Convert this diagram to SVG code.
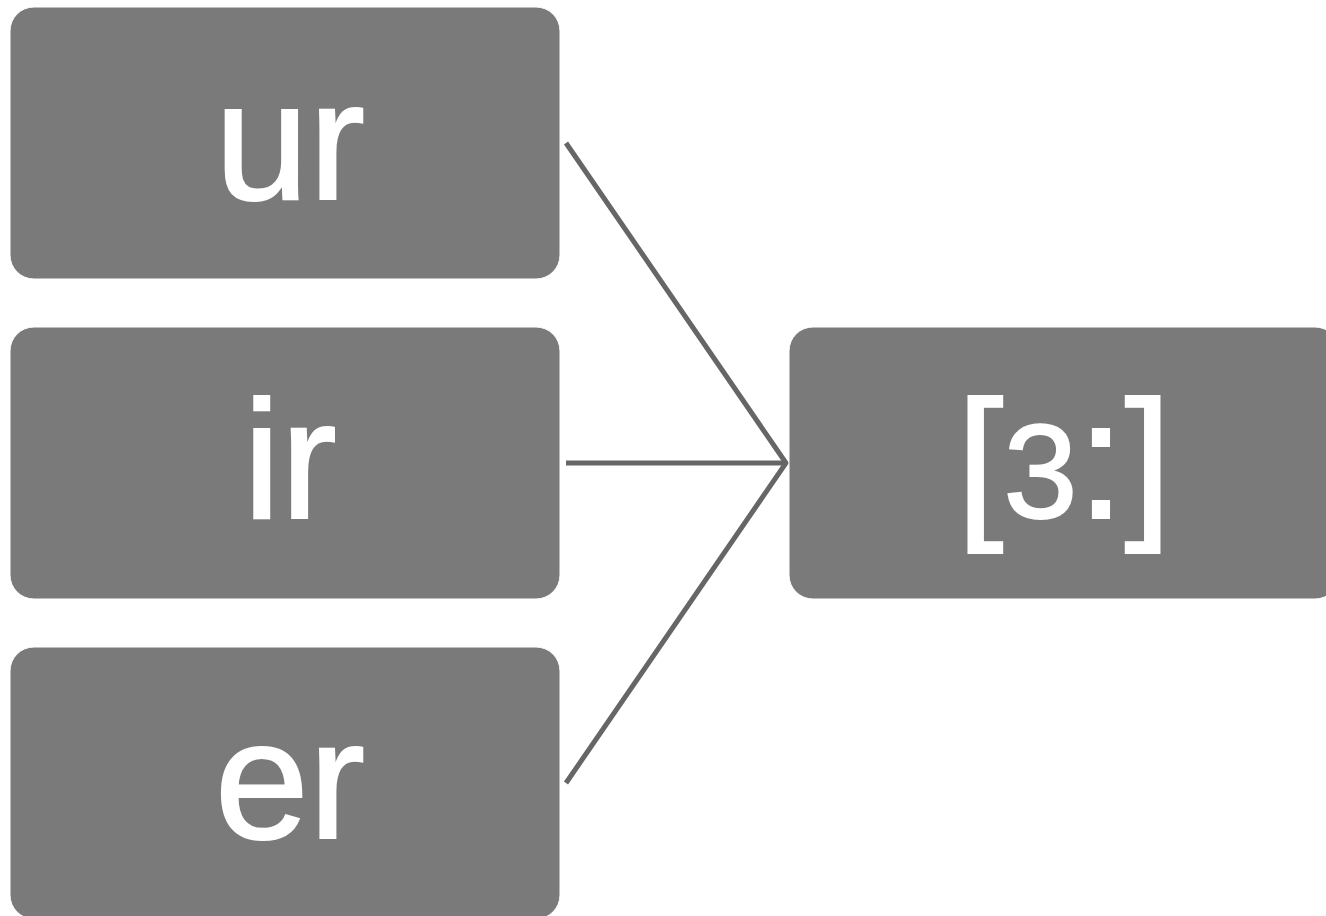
<svg xmlns="http://www.w3.org/2000/svg" width="1326" height="916" viewBox="0 0 1326 916">
<style>
.box{fill:#7a7a7a;stroke:#ffffff;stroke-width:1}
.lbl{fill:#ffffff;stroke:#ffffff;stroke-width:2;font-family:"Liberation Sans",Arial,sans-serif;font-size:169px;text-anchor:middle}
.edge{fill:none;stroke:#666666;stroke-width:5}
</style>
<rect width="1326" height="916" fill="#ffffff"/>
<g id="connectors">
<path class="edge" d="M566,143 L786,463 L566,783"/>
<path class="edge" d="M566,463 L786,463"/>
</g>
<g id="node-ur">
<rect class="box" x="10" y="7" width="550" height="272" rx="24"/>
<text class="lbl" x="290" y="199">ur</text>
</g>
<g id="node-ir">
<rect class="box" x="10" y="327" width="550" height="272" rx="24"/>
<text class="lbl" x="290" y="518">ir</text>
</g>
<g id="node-er">
<rect class="box" x="10" y="647" width="550" height="272" rx="24"/>
<text class="lbl" x="290" y="838">er</text>
</g>
<g id="node-slice">
<rect class="box" x="789" y="327" width="550" height="272" rx="24"/>
<text class="lbl" x="1064" y="518">[<tspan font-size="133">3</tspan>:]</text>
</g>
</svg>
